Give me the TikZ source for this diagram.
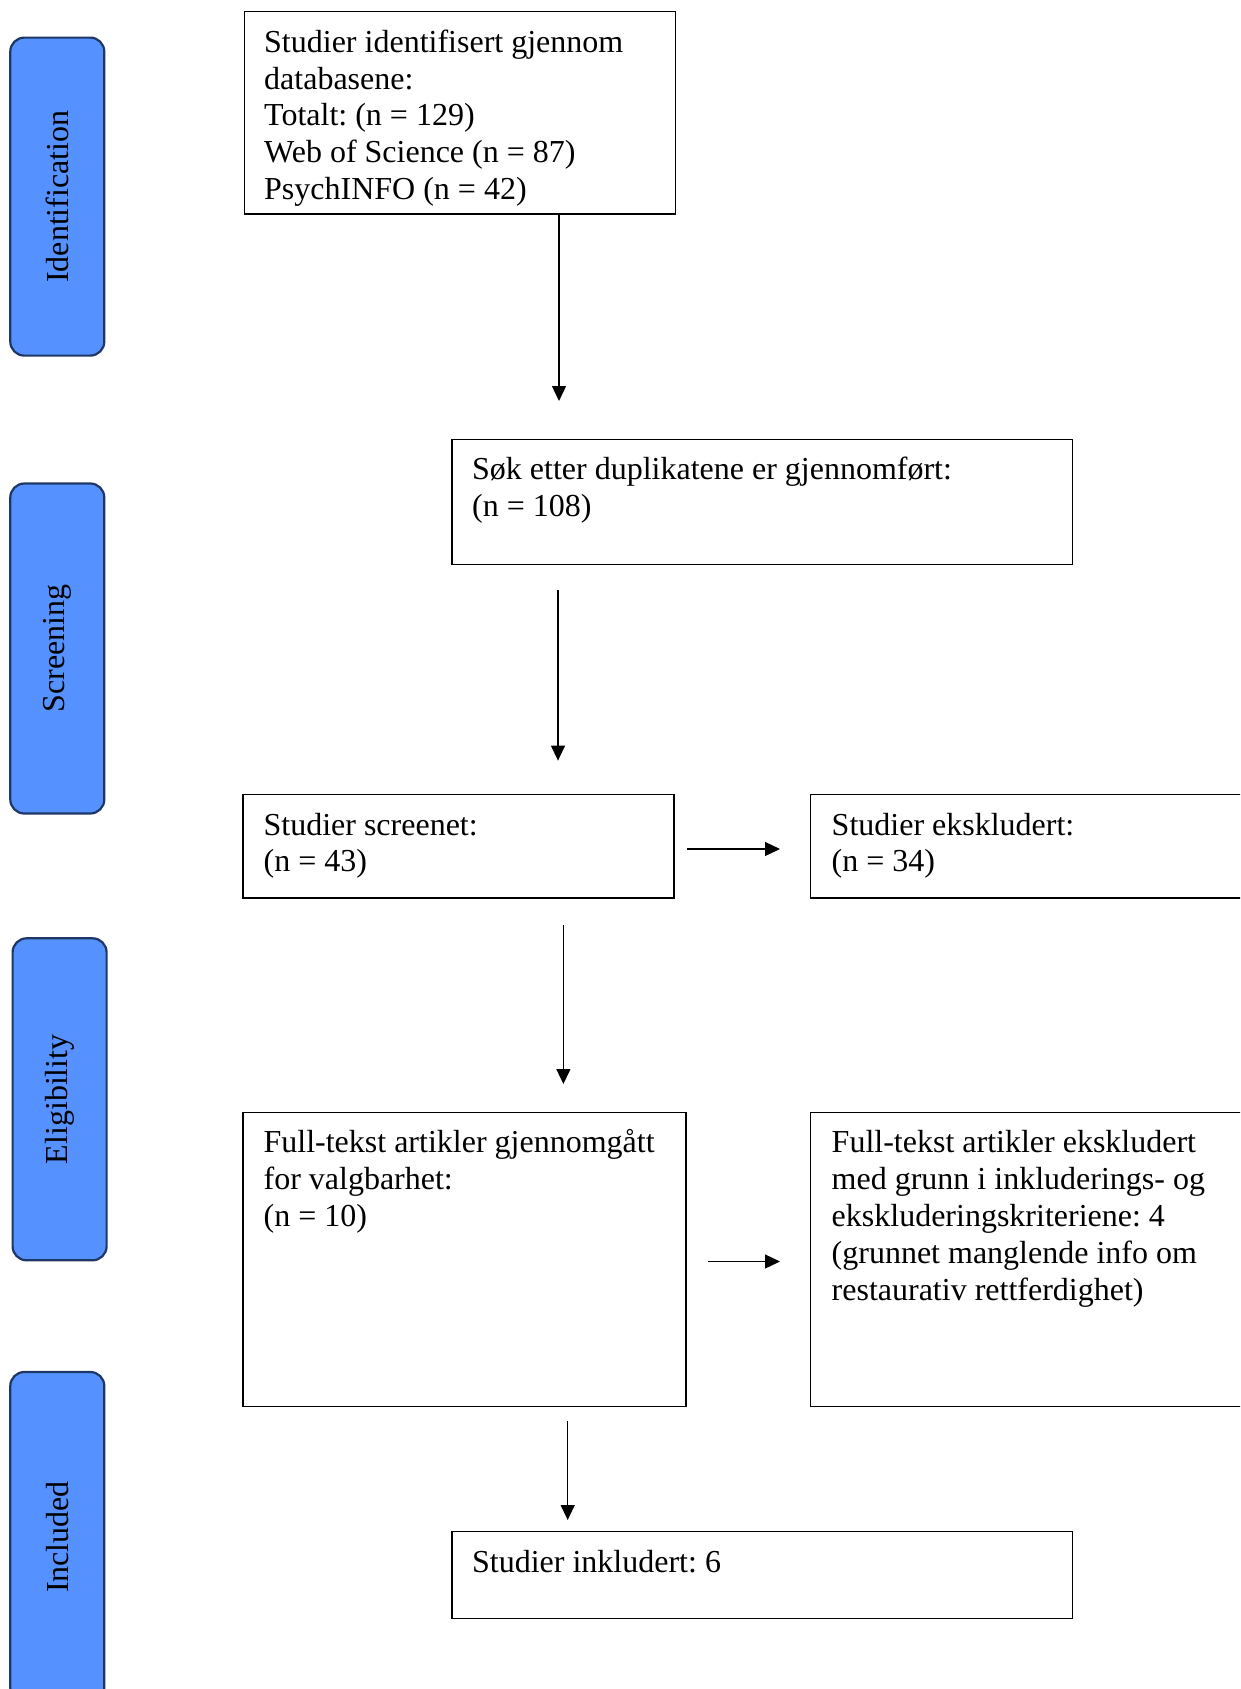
\documentclass[tikz,border=0pt]{standalone}
\usepackage{fontspec}
\setmainfont{Liberation Serif}
\usetikzlibrary{arrows.meta,calc}
\definecolor{sidefill}{RGB}{85,145,255}
\definecolor{sideline}{RGB}{30,55,100}
\newcommand\myboxfont{\fontsize{32}{36.8}\selectfont\frenchspacing}
\begin{document}
\begin{tikzpicture}[x=1pt,y=-1pt,
  box/.style={draw=black, line width=1.3pt, anchor=north west, inner sep=0pt},
  txt/.style={anchor=base west, inner sep=0pt, text width=760pt, align=flush left,
              font=\myboxfont},
  side/.style={draw=sideline, fill=sidefill, line width=2.2pt, rounded corners=14pt,
               rotate=90, inner sep=0pt, font=\fontsize{32}{36.8}\selectfont},
  arr/.style={draw=black, line width=1.3pt, -{Triangle[length=15pt,width=14pt]}}
]
\useasboundingbox (0,0) rectangle (1240,1689);
\clip (0,0) rectangle (1240,1689);

% side phase labels
\node[side, minimum width=318pt, minimum height=94pt] (s1) at (57.3,196.6) {Identification};
\node[side, minimum width=330pt, minimum height=94pt] (s2) at (57.3,648.5) {Screening};
\node[side, minimum width=322pt, minimum height=94pt] (s3) at (59.6,1099.3) {Eligibility};
\node[side, minimum width=330pt, minimum height=94pt] (s4) at (57.3,1537) {Included};

% boxes
\node[box, minimum width=431pt, minimum height=202.5pt] (b1) at (243.5,10.8) {};
\node[box, minimum width=620.5pt, minimum height=125pt] (b2) at (451.4,438.5) {};
\node[box, minimum width=431pt, minimum height=103.4pt] (b3) at (242.4,794) {};
\node[box, minimum width=460pt, minimum height=103.4pt] (b4) at (810,794) {};
\node[box, minimum width=442.8pt, minimum height=294.2pt] (b5) at (242.4,1111.8) {};
\node[box, minimum width=460pt, minimum height=294.2pt] (b6) at (810,1111.8) {};
\node[box, minimum width=620.5pt, minimum height=87pt] (b7) at (451.4,1531) {};

% texts
\node[txt] (t1) at ($(b1.north west)+(20.5,41.5)$) {Studier identifisert gjennom\\databasene:\\Totalt: (n = 129)\\Web of Science (n = 87)\\PsychINFO (n = 42)};
\node[txt] (t2) at ($(b2.north west)+(20.5,41)$) {Søk etter duplikatene er gjennomført:\\(n = 108)};
\node[txt] (t3) at ($(b3.north west)+(21,41)$) {Studier screenet:\\(n = 43)};
\node[txt] (t4) at ($(b4.north west)+(21.5,41)$) {Studier ekskludert:\\(n = 34)};
\node[txt] (t5) at ($(b5.north west)+(21,41)$) {Full-tekst artikler gjennomgått\\for valgbarhet:\\(n = 10)};
\node[txt] (t6) at ($(b6.north west)+(21.5,41)$) {Full-tekst artikler ekskludert\\med grunn i inkluderings- og\\ekskluderingskriteriene: 4\\(grunnet manglende info om\\restaurativ rettferdighet)};
\node[txt] (t7) at ($(b7.north west)+(20.5,41)$) {Studier inkludert: 6};

% arrow end points
\coordinate (e1) at (559,401);
\coordinate (e2) at (558,760.6);
\coordinate (e3) at (780,849);
\coordinate (e4) at (563.4,1084);
\coordinate (e5) at (780,1261.5);
\coordinate (e6) at (567.7,1520);

% connectors
\draw[arr] (b1.south -| e1) -- (e1);
\draw[arr, shorten <=25.6pt] (b2.south -| e2) -- (e2);
\draw[arr, shorten <=12.7pt] (b3.east |- e3) -- (e3);
\draw[arr, shorten <=26.6pt] (b3.south -| e4) -- (e4);
\draw[arr, shorten <=21.5pt] (b5.east |- e5) -- (e5);
\draw[arr, shorten <=14pt] (b5.south -| e6) -- (e6);
\end{tikzpicture}
\end{document}
